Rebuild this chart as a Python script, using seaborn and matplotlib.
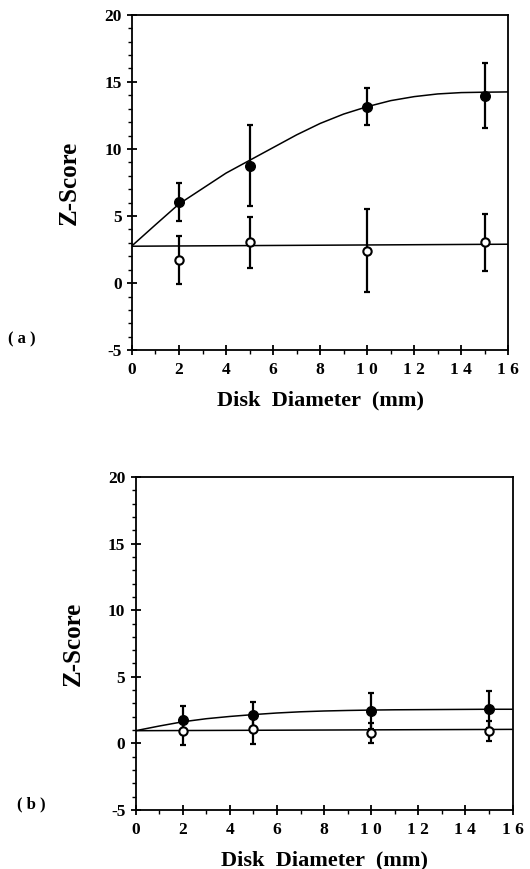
import numpy as np
import pandas as pd
import matplotlib
matplotlib.use("Agg")
import matplotlib.pyplot as plt
import seaborn as sns
from matplotlib.ticker import MultipleLocator

sns.set_style("ticks")
plt.rcParams['font.family'] = ['Liberation Serif', 'DejaVu Serif']
plt.rcParams['font.weight'] = 'bold'
plt.rcParams['text.color'] = 'black'
plt.rcParams['axes.labelcolor'] = 'black'
plt.rcParams['xtick.color'] = 'black'
plt.rcParams['ytick.color'] = 'black'
plt.rcParams['axes.edgecolor'] = 'black'

# ---------------- data ----------------
diam = [2, 5, 10, 15]

# panel (a)
a_filled = [6.05, 8.75, 13.16, 13.98]
a_filled_err = [1.4, 3.0, 1.4, 2.4]
a_open = [1.7, 3.04, 2.41, 3.04]
a_open_err = [1.8, 1.9, 3.1, 2.1]
a_fit_x = [0, 1, 2, 3, 4, 5, 6, 7, 8, 9, 10, 11, 12, 13, 14, 15, 16]
a_fit_filled = [2.78, 4.35, 5.9, 7.05, 8.2, 9.15, 10.1, 11.05, 11.9, 12.6, 13.15,
                13.6, 13.9, 14.1, 14.2, 14.23, 14.25]
a_line_x = [0, 16]
a_line_open = [2.75, 2.9]

# panel (b)
b_filled = [1.75, 2.13, 2.43, 2.56]
b_filled_err = [1.05, 1.0, 1.33, 1.37]
b_open = [0.95, 1.05, 0.8, 0.92]
b_open_err = [1.05, 1.1, 0.75, 0.75]
b_fit_x = [0, 1, 2, 3, 4, 5, 6, 7, 8, 9, 10, 11, 12, 13, 14, 15, 16]
b_fit_filled = [0.95, 1.3, 1.62, 1.85, 2.02, 2.16, 2.28, 2.37, 2.43, 2.47, 2.5,
                2.52, 2.53, 2.54, 2.55, 2.56, 2.56]
b_line_x = [0, 16]
b_line_open = [0.95, 1.05]

xticks = [0, 2, 4, 6, 8, 10, 12, 14, 16]
xticklabels = ["0", "2", "4", "6", "8", "1 0", "1 2", "1 4", "1 6"]
yticks = [-5, 0, 5, 10, 15, 20]
yticklabels = ["-5", "0", "5", "10", "15", "20"]

fig = plt.figure(figsize=(5.30, 8.69), dpi=100)
ax_a = fig.add_axes([0.249, 0.597, 0.710, 0.386])
ax_b = fig.add_axes([0.256, 0.068, 0.711, 0.383])


def draw(ax, filled, ferr, opn, oerr, fx, fy, lx, ly, tag, tag_xy):
    sns.lineplot(x=fx, y=fy, ax=ax, color='black', lw=1.1, sort=False)
    sns.lineplot(x=lx, y=ly, ax=ax, color='black', lw=1.1, sort=False)
    ax.errorbar(diam, filled, yerr=ferr, fmt='none', ecolor='black',
                elinewidth=1.6, capsize=2.5, capthick=1.6, zorder=3)
    ax.errorbar(diam, opn, yerr=oerr, fmt='none', ecolor='black',
                elinewidth=1.6, capsize=2.5, capthick=1.6, zorder=3)
    sns.scatterplot(x=diam, y=filled, ax=ax, s=48, color='black',
                    edgecolor='black', linewidth=1.0, zorder=4)
    sns.scatterplot(x=diam, y=opn, ax=ax, s=36, color='white',
                    edgecolor='black', linewidth=1.5, zorder=5)
    ax.set_xlim(0, 16)
    ax.set_ylim(-5, 20)
    ax.set_xticks(xticks)
    ax.set_xticklabels(xticklabels, fontsize=12.5, fontweight='bold',
                       color='black')
    ax.set_yticks(yticks)
    ax.set_yticklabels(yticklabels, fontsize=12.5, fontweight='bold',
                       color='black')
    ax.xaxis.set_minor_locator(MultipleLocator(1))
    ax.yaxis.set_minor_locator(MultipleLocator(1))
    ax.tick_params(axis='both', which='major', direction='inout', length=7,
                   width=1.3, colors='black')
    ax.tick_params(axis='x', which='major', pad=5)
    ax.tick_params(axis='y', which='major', pad=4)
    ax.tick_params(axis='both', which='minor', direction='out', length=3,
                   width=1.0, colors='black')
    for s in ax.spines.values():
        s.set_visible(True)
        s.set_color('black')
        s.set_linewidth(1.3)
    ax.set_xlabel("Disk  Diameter  (mm)", fontsize=16, fontweight='bold',
                  labelpad=9, color='black')
    ax.set_ylabel("Z-Score", fontsize=18, fontweight='bold', labelpad=17,
                  color='black')
    fig.text(tag_xy[0], tag_xy[1], tag, fontsize=12, fontweight='bold',
             ha='left', va='center', color='black')


draw(ax_a, a_filled, a_filled_err, a_open, a_open_err, a_fit_x, a_fit_filled,
     a_line_x, a_line_open, "( a )", (8 / 530, 1 - 339 / 869))
draw(ax_b, b_filled, b_filled_err, b_open, b_open_err, b_fit_x, b_fit_filled,
     b_line_x, b_line_open, "( b )", (17 / 530, 1 - 804 / 869))

fig.savefig("out.png", dpi=100)
